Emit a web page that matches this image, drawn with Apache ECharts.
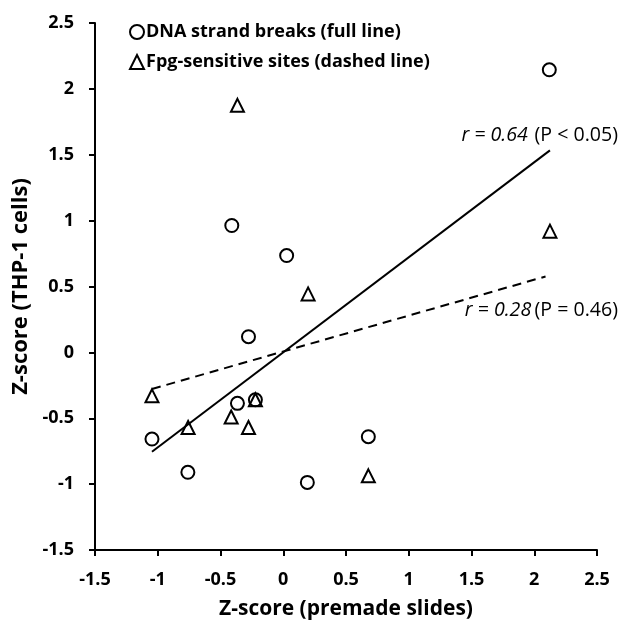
<!DOCTYPE html>
<html>
<head>
<meta charset="utf-8">
<script src="https://cdn.jsdelivr.net/npm/echarts@6/dist/echarts.min.js"></script>
<style>
html,body{margin:0;padding:0;background:#fff;}
#chart{width:622px;height:621px;}
</style>
</head>
<body>
<div id="chart"></div>
<script>
// Data
const strandBreaksX = [2.12, -0.41, 0.027, -0.277, -0.365, -0.222, -1.046, 0.678, -0.76, 0.192];
const strandBreaksY = [2.145, 0.963, 0.735, 0.119, -0.387, -0.36, -0.658, -0.64, -0.91, -0.987];
const fpgX = [-0.365, 2.125, 0.198, -1.046, -0.222, -0.415, -0.758, -0.277, 0.678];
const fpgY = [1.875, 0.92, 0.444, -0.33, -0.36, -0.49, -0.57, -0.57, -0.937];
const solidLineX = [-1.046, 2.125];
const solidLineY = [-0.754, 1.533];
const dashedLineX = [-1.046, 2.09];
const dashedLineY = [-0.278, 0.576];
const seriesNames = ['DNA strand breaks (full line)', 'Fpg-sensitive sites (dashed line)'];
const xTitle = 'Z-score (premade slides)';
const yTitle = 'Z-score (THP-1 cells)';

const zip = (a, b) => a.map((v, i) => [v, b[i]]);
const FONT = 'Open Sans';

const chart = echarts.init(document.getElementById('chart'));
const fmt = v => String(v);
const axisCommon = {
  min: -1.5, max: 2.5, interval: 0.5,
  splitLine: { show: false },
  axisLine: { show: true, onZero: false, lineStyle: { color: '#000', width: 2 } },
  axisTick: { show: true, length: 6, lineStyle: { color: '#000', width: 2 } },
  axisLabel: { color: '#000', fontFamily: FONT, fontWeight: 'bold', fontSize: 18, formatter: fmt }
};
chart.setOption({
  animation: false,
  grid: { left: 95, right: 25, top: 23, bottom: 71, containLabel: false, outerBoundsMode: 'none' },
  xAxis: Object.assign({}, axisCommon, {
    type: 'value',
    name: xTitle, nameLocation: 'middle', nameGap: 49,
    nameTextStyle: { color: '#000', fontFamily: FONT, fontWeight: 'bold', fontSize: 21 },
    axisLabel: Object.assign({}, axisCommon.axisLabel, { margin: 21 })
  }),
  yAxis: Object.assign({}, axisCommon, {
    type: 'value',
    name: yTitle, nameLocation: 'middle', nameGap: 41,
    nameTextStyle: { color: '#000', fontFamily: FONT, fontWeight: 'bold', fontSize: 22 },
    axisLabel: Object.assign({}, axisCommon.axisLabel, { margin: 21 })
  }),
  legend: {
    orient: 'vertical', left: 124, top: 18, itemGap: 12,
    itemWidth: 14, itemHeight: 14,
    textStyle: { color: '#000', fontFamily: FONT, fontWeight: 'bold', fontSize: 18, padding: [0, 0, 0, -3] },
    data: [
      { name: seriesNames[0], icon: 'circle' },
      { name: seriesNames[1], icon: 'triangle' }
    ]
  },
  series: [
    {
      name: seriesNames[0], type: 'scatter', symbol: 'circle', symbolSize: 13,
      itemStyle: { color: '#fff', borderColor: '#000', borderWidth: 2, opacity: 1 },
      data: zip(strandBreaksX, strandBreaksY), z: 5
    },
    {
      name: seriesNames[1], type: 'scatter', symbol: 'triangle', symbolSize: 13,
      itemStyle: { color: 'rgba(255,255,255,0)', borderColor: '#000', borderWidth: 2, opacity: 1 },
      data: zip(fpgX, fpgY), z: 6
    },
    {
      type: 'line', data: zip(solidLineX, solidLineY), symbol: 'none',
      lineStyle: { color: '#000', width: 2, type: 'solid' }, silent: true, z: 3
    },
    {
      type: 'line', data: zip(dashedLineX, dashedLineY), symbol: 'none',
      lineStyle: { color: '#000', width: 2, type: [9, 6] }, silent: true, z: 3
    }
  ],
  graphic: [
    {
      type: 'text', right: 4, top: 125,
      style: {
        text: '{i|r = 0.64}  {n|(P < 0.05)}',
        rich: {
          i: { fontFamily: FONT, fontStyle: 'italic', fontSize: 19.6, fill: '#000' },
          n: { fontFamily: FONT, fontSize: 19.6, fill: '#000' }
        }
      }
    },
    {
      type: 'text', right: 4, top: 300,
      style: {
        text: '{i|r = 0.28} {n|(P = 0.46)}',
        rich: {
          i: { fontFamily: FONT, fontStyle: 'italic', fontSize: 19.6, fill: '#000' },
          n: { fontFamily: FONT, fontSize: 19.6, fill: '#000' }
        }
      }
    }
  ]
});
</script>
</body>
</html>
